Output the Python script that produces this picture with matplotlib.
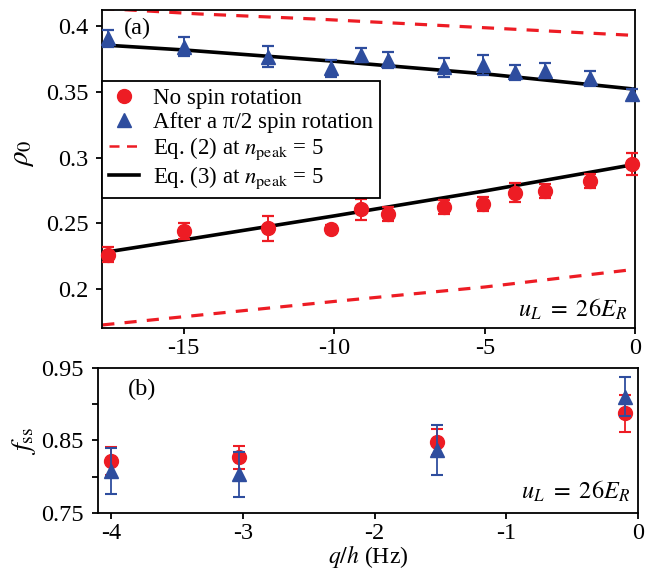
import matplotlib
matplotlib.use("Agg")
import matplotlib.pyplot as plt
from matplotlib.lines import Line2D

plt.rcParams["font.family"] = "serif"
plt.rcParams["font.serif"] = ["Liberation Serif", "DejaVu Serif"]
plt.rcParams["mathtext.fontset"] = "stix"
plt.rcParams["axes.unicode_minus"] = False

RED = "#ed1c24"
BLUE = "#2e4d9e"

# panel (a): rho_0 vs q (Hz)
q_a = [-17.5, -15.0, -12.2, -10.1, -9.1, -8.2, -6.35, -5.05, -4.0, -3.0, -1.5, -0.1]
rho_red = [0.226, 0.244, 0.2462, 0.2455, 0.2607, 0.2571, 0.2622, 0.2645, 0.2733, 0.2746, 0.2822, 0.2951]
rho_red_err = [0.0057, 0.0063, 0.0096, 0.003, 0.008, 0.0055, 0.0055, 0.0055, 0.007, 0.005, 0.005, 0.008]
rho_blue = [0.3908, 0.3844, 0.3768, 0.368, 0.3784, 0.3743, 0.3686, 0.3705, 0.3648, 0.366, 0.3603, 0.348]
rho_blue_err = [0.0064, 0.007, 0.008, 0.0066, 0.0053, 0.0063, 0.0072, 0.0076, 0.0057, 0.0057, 0.0058, 0.0042]

# Eq. (3) curves
q_fit = [-17.7, -15.0, -10.0, -5.0, 0.0]
fit_red = [0.2276, 0.2373, 0.2556, 0.2746, 0.2949]
fit_blue = [0.3857, 0.3819, 0.3733, 0.3637, 0.352]

# Eq. (2) curves
q_eq2_hi = [-17.7, -14.5, -10.5, -5.0, 0.0]
eq2_hi = [0.4135, 0.4093, 0.4053, 0.3988, 0.3929]
q_eq2_lo = [-17.7, -10.0, -5.0, 0.0]
eq2_lo = [0.1726, 0.1905, 0.2015, 0.215]

# panel (b): f_ss vs q/h
q_b = [-4.0, -3.03, -1.53, -0.1]
fss_red = [0.8216, 0.8268, 0.8475, 0.8877]
fss_red_err = [0.02, 0.016, 0.018, 0.026]
fss_blue = [0.808, 0.803, 0.8366, 0.9107]
fss_blue_err = [0.032, 0.0316, 0.0344, 0.0268]

fig = plt.figure(figsize=(6.54, 5.71), dpi=100)
ax = fig.add_axes([0.1564, 0.4256, 0.8153, 0.5569])
bx = fig.add_axes([0.1494, 0.1021, 0.8266, 0.2529])

TICK_FS = 17.5

for a in (ax, bx):
    for s in a.spines.values():
        s.set_linewidth(1.3)
    a.tick_params(direction="out", length=4, width=1.3, labelsize=TICK_FS, pad=3.5)
    a.tick_params(axis="y", pad=6)
    a.tick_params(which="minor", direction="out", length=4, width=1.3)

# theory curves
ax.plot(q_eq2_hi, eq2_hi, color=RED, lw=2.3, ls=(0, (3.8, 3.2)))
ax.plot(q_eq2_lo, eq2_lo, color=RED, lw=2.3, ls=(0, (3.8, 3.2)))
ax.plot(q_fit, fit_red, color="black", lw=2.6)
ax.plot(q_fit, fit_blue, color="black", lw=2.6)

# data
ax.errorbar(q_a, rho_blue, yerr=rho_blue_err, fmt="^", color=BLUE, ms=10.5,
            capsize=4.5, elinewidth=1.4, capthick=1.6, clip_on=False, zorder=4)
ax.errorbar(q_a, rho_red, yerr=rho_red_err, fmt="o", color=RED, ms=10,
            capsize=4.5, elinewidth=1.4, capthick=1.6, clip_on=False, zorder=4)

ax.set_xlim(-17.7, 0)
ax.set_ylim(0.1703, 0.4123)
ax.set_xticks([-15, -10, -5, 0])
ax.set_xticklabels(["-15", "-10", "-5", "0"])
ax.set_yticks([0.2, 0.25, 0.3, 0.35, 0.4])
ax.set_yticklabels(["0.2", "0.25", "0.3", "0.35", "0.4"])
ax.set_ylabel(r"$\rho_0$", fontsize=21)
ax.yaxis.set_label_coords(-0.125, 0.55)

ax.text(0.04, 0.975, "(a)", transform=ax.transAxes, fontsize=17.5, ha="left", va="top")
ax.text(0.985, 0.02, r"$u_L\ =\ 26E_R$", transform=ax.transAxes, fontsize=17.5,
        ha="right", va="bottom")

handles = [
    Line2D([], [], ls="none", marker="o", color=RED, ms=10),
    Line2D([], [], ls="none", marker="^", color=BLUE, ms=10.5),
    Line2D([], [], color=RED, lw=1.8, ls=(0, (4, 3))),
    Line2D([], [], color="black", lw=2.6),
]
labels = [
    "No spin rotation",
    "After a π/2 spin rotation",
    r"Eq. (2) at $n_{\mathrm{peak}}$ = 5",
    r"Eq. (3) at $n_{\mathrm{peak}}$ = 5",
]
leg = ax.legend(handles, labels, loc="upper left", bbox_to_anchor=(0.0, 0.777),
                borderaxespad=0, fontsize=16.5, frameon=True, fancybox=False,
                edgecolor="black", framealpha=1, handlelength=1.3,
                handletextpad=0.6, labelspacing=0.12, borderpad=0.3)
leg.get_frame().set_linewidth(1.3)

# panel (b)
bx.errorbar(q_b, fss_red, yerr=fss_red_err, fmt="o", color=RED, ms=10,
            capsize=4.0, elinewidth=1.3, capthick=1.5, clip_on=False, zorder=3)
bx.errorbar(q_b, fss_blue, yerr=fss_blue_err, fmt="^", color=BLUE, ms=10.5,
            capsize=4.0, elinewidth=1.3, capthick=1.5, clip_on=False, zorder=4)

bx.set_xlim(-4.1, 0)
bx.set_ylim(0.75, 0.95)
bx.set_xticks([-4, -3, -2, -1, 0])
bx.set_xticklabels(["-4", "-3", "-2", "-1", "0"])
bx.set_yticks([0.75, 0.85, 0.95])
bx.set_yticklabels(["0.75", "0.85", "0.95"])
bx.set_yticks([0.8, 0.9], minor=True)
bx.set_xlabel(r"$q/h$ (Hz)", fontsize=17)
bx.xaxis.set_label_coords(0.5, -0.212)
bx.set_ylabel(r"$f_{\mathrm{ss}}$", fontsize=20)
bx.yaxis.set_label_coords(-0.11, 0.5)

bx.text(0.055, 0.93, "(b)", transform=bx.transAxes, fontsize=17.5, ha="left", va="top")
bx.text(0.985, 0.06, r"$u_L\ =\ 26E_R$", transform=bx.transAxes, fontsize=17.5,
        ha="right", va="bottom")

fig.savefig("out.png", dpi=100)
